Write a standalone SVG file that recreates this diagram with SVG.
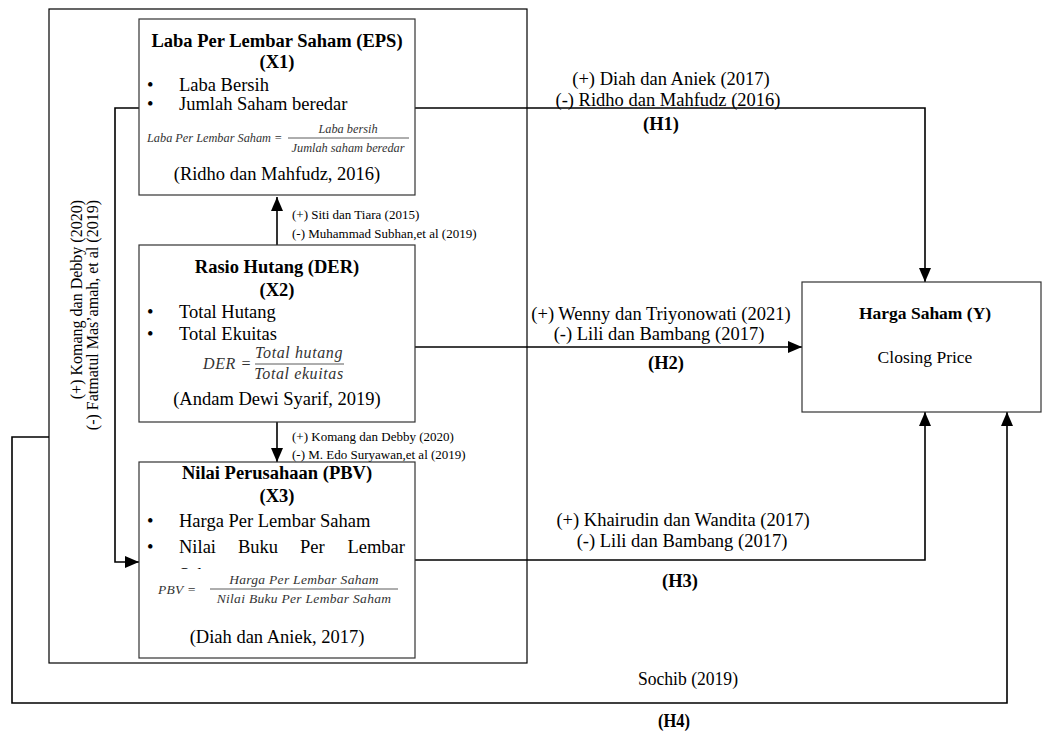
<svg xmlns="http://www.w3.org/2000/svg" width="1043" height="731" viewBox="0 0 1043 731">
<style>
text{font-family:"Liberation Serif","Times New Roman",serif;fill:#000}
.t{font-size:18.5px}
.b{font-size:18.5px;font-weight:bold}
.s{font-size:13px}
.m{font-style:italic;fill:#333}
.c{text-anchor:middle}
.box{fill:#fff;stroke:#333;stroke-width:1.2}
.ln{fill:none;stroke:#000;stroke-width:1.6}
</style>
<defs>
<marker id="ah" markerUnits="userSpaceOnUse" markerWidth="14" markerHeight="12" viewBox="0 0 14 12" refX="14" refY="6" orient="auto">
<path d="M0,0 L14,6 L0,12 z" fill="#000"/>
</marker>
<clipPath id="cut"><rect x="170" y="560" width="100" height="9"/></clipPath>
</defs>

<rect id="outer" x="49" y="9" width="478" height="654" fill="none" stroke="#000" stroke-width="1.2"/>

<g id="connectors">
<polyline class="ln" points="415,108 925,108 925,282" marker-end="url(#ah)"/>
<polyline class="ln" points="139,108 115,108 115,562 139,562" marker-end="url(#ah)"/>
<line class="ln" x1="277" y1="245" x2="277" y2="197" marker-end="url(#ah)"/>
<line class="ln" x1="277" y1="422" x2="277" y2="462" marker-end="url(#ah)"/>
<line class="ln" x1="415" y1="347" x2="802" y2="347" marker-end="url(#ah)"/>
<polyline class="ln" points="415,560 925,560 925,412" marker-end="url(#ah)"/>
<polyline class="ln" points="49,437 12,437 12,703 1007,703 1007,412" marker-end="url(#ah)"/>
</g>

<g id="labels">
<text class="t c" x="671" y="85">(+) Diah dan Aniek (2017)</text>
<text class="t c" x="668" y="106">(-) Ridho dan Mahfudz (2016)</text>
<text class="b c" x="661" y="130">(H1)</text>
<text class="s" x="292" y="219">(+) Siti dan Tiara (2015)</text>
<text class="s" x="292" y="238">(-) Muhammad Subhan,et al (2019)</text>
<text class="t c" x="661" y="320">(+) Wenny dan Triyonowati (2021)</text>
<text class="t c" x="659" y="340">(-) Lili dan Bambang (2017)</text>
<text class="b c" x="666" y="369">(H2)</text>
<text class="s" x="292" y="441">(+) Komang dan Debby (2020)</text>
<text class="s" x="292" y="459">(-) M. Edo Suryawan,et al (2019)</text>
<text class="t c" x="683" y="526">(+) Khairudin dan Wandita (2017)</text>
<text class="t c" x="682" y="547">(-) Lili dan Bambang (2017)</text>
<text class="b c" x="680" y="587">(H3)</text>
<text class="c" x="688" y="685" font-size="19" textLength="100" lengthAdjust="spacingAndGlyphs">Sochib (2019)</text>
<text class="c" x="674" y="727" font-size="19" font-weight="bold" textLength="32" lengthAdjust="spacingAndGlyphs">(H4)</text>
<text font-size="16" text-anchor="end" transform="translate(82,200) rotate(-90)">(+) Komang dan Debby (2020)</text>
<text font-size="16" text-anchor="end" transform="translate(98,200) rotate(-90)">(-) Fatmatul Mas’amah, et al (2019)</text>
</g>

<g id="eps">
<rect class="box" x="139" y="19" width="276" height="176"/>
<text class="b c" x="277" y="47">Laba Per Lembar Saham (EPS)</text>
<text class="b c" x="277" y="68">(X1)</text>
<text class="t" x="147" y="91">•</text>
<text class="t" x="179" y="91">Laba Bersih</text>
<text class="t" x="147" y="110">•</text>
<text class="t" x="179" y="110">Jumlah Saham beredar</text>
<text class="m" x="147" y="142" font-size="12.3">Laba Per Lembar Saham =</text>
<text class="m c" x="348" y="133" font-size="12.3">Laba bersih</text>
<line x1="288" y1="138" x2="409" y2="138" stroke="#333" stroke-width="0.8"/>
<text class="m c" x="348" y="152" font-size="12.3">Jumlah saham beredar</text>
<text class="t c" x="277" y="180">(Ridho dan Mahfudz, 2016)</text>
</g>

<g id="der">
<rect class="box" x="139" y="245" width="276" height="177"/>
<text class="b c" x="277" y="273">Rasio Hutang (DER)</text>
<text class="b c" x="277" y="296">(X2)</text>
<text class="t" x="147" y="318">•</text>
<text class="t" x="179" y="318">Total Hutang</text>
<text class="t" x="147" y="340">•</text>
<text class="t" x="179" y="340">Total Ekuitas</text>
<text class="m" x="203" y="369" font-size="16" letter-spacing="0.6">DER =</text>
<text class="m c" x="299" y="358" font-size="16" letter-spacing="0.6">Total hutang</text>
<line x1="255" y1="364" x2="344" y2="364" stroke="#333" stroke-width="0.8"/>
<text class="m c" x="299" y="379" font-size="16" letter-spacing="0.6">Total ekuitas</text>
<text class="t c" x="277" y="405">(Andam Dewi Syarif, 2019)</text>
</g>

<g id="pbv">
<rect class="box" x="139" y="462" width="276" height="196"/>
<text class="b c" x="277" y="479">Nilai Perusahaan (PBV)</text>
<text class="b c" x="277" y="502">(X3)</text>
<text class="t" x="147" y="527">•</text>
<text class="t" x="179" y="527">Harga Per Lembar Saham</text>
<text class="t" x="147" y="553">•</text>
<text class="t" x="179" y="553">Nilai</text>
<text class="t" x="238" y="553">Buku</text>
<text class="t" x="300" y="553">Per</text>
<text class="t" x="405" y="553" text-anchor="end">Lembar</text>
<text class="t" x="179" y="581" clip-path="url(#cut)">Saham</text>
<text class="m" x="158" y="594" font-size="13.5" letter-spacing="0.3">PBV =</text>
<text class="m c" x="304" y="584" font-size="13.5" letter-spacing="0.3">Harga Per Lembar Saham</text>
<line x1="210" y1="589" x2="398" y2="589" stroke="#333" stroke-width="0.8"/>
<text class="m c" x="304" y="603" font-size="13.5" letter-spacing="0.3">Nilai Buku Per Lembar Saham</text>
<text class="t c" x="277" y="643">(Diah dan Aniek, 2017)</text>
</g>

<g id="harga">
<rect class="box" x="802" y="282" width="239" height="130"/>
<text class="c" x="925" y="319" font-size="17.5" font-weight="bold">Harga Saham (Y)</text>
<text class="c" x="925" y="363" font-size="17.5">Closing Price</text>
</g>
</svg>
